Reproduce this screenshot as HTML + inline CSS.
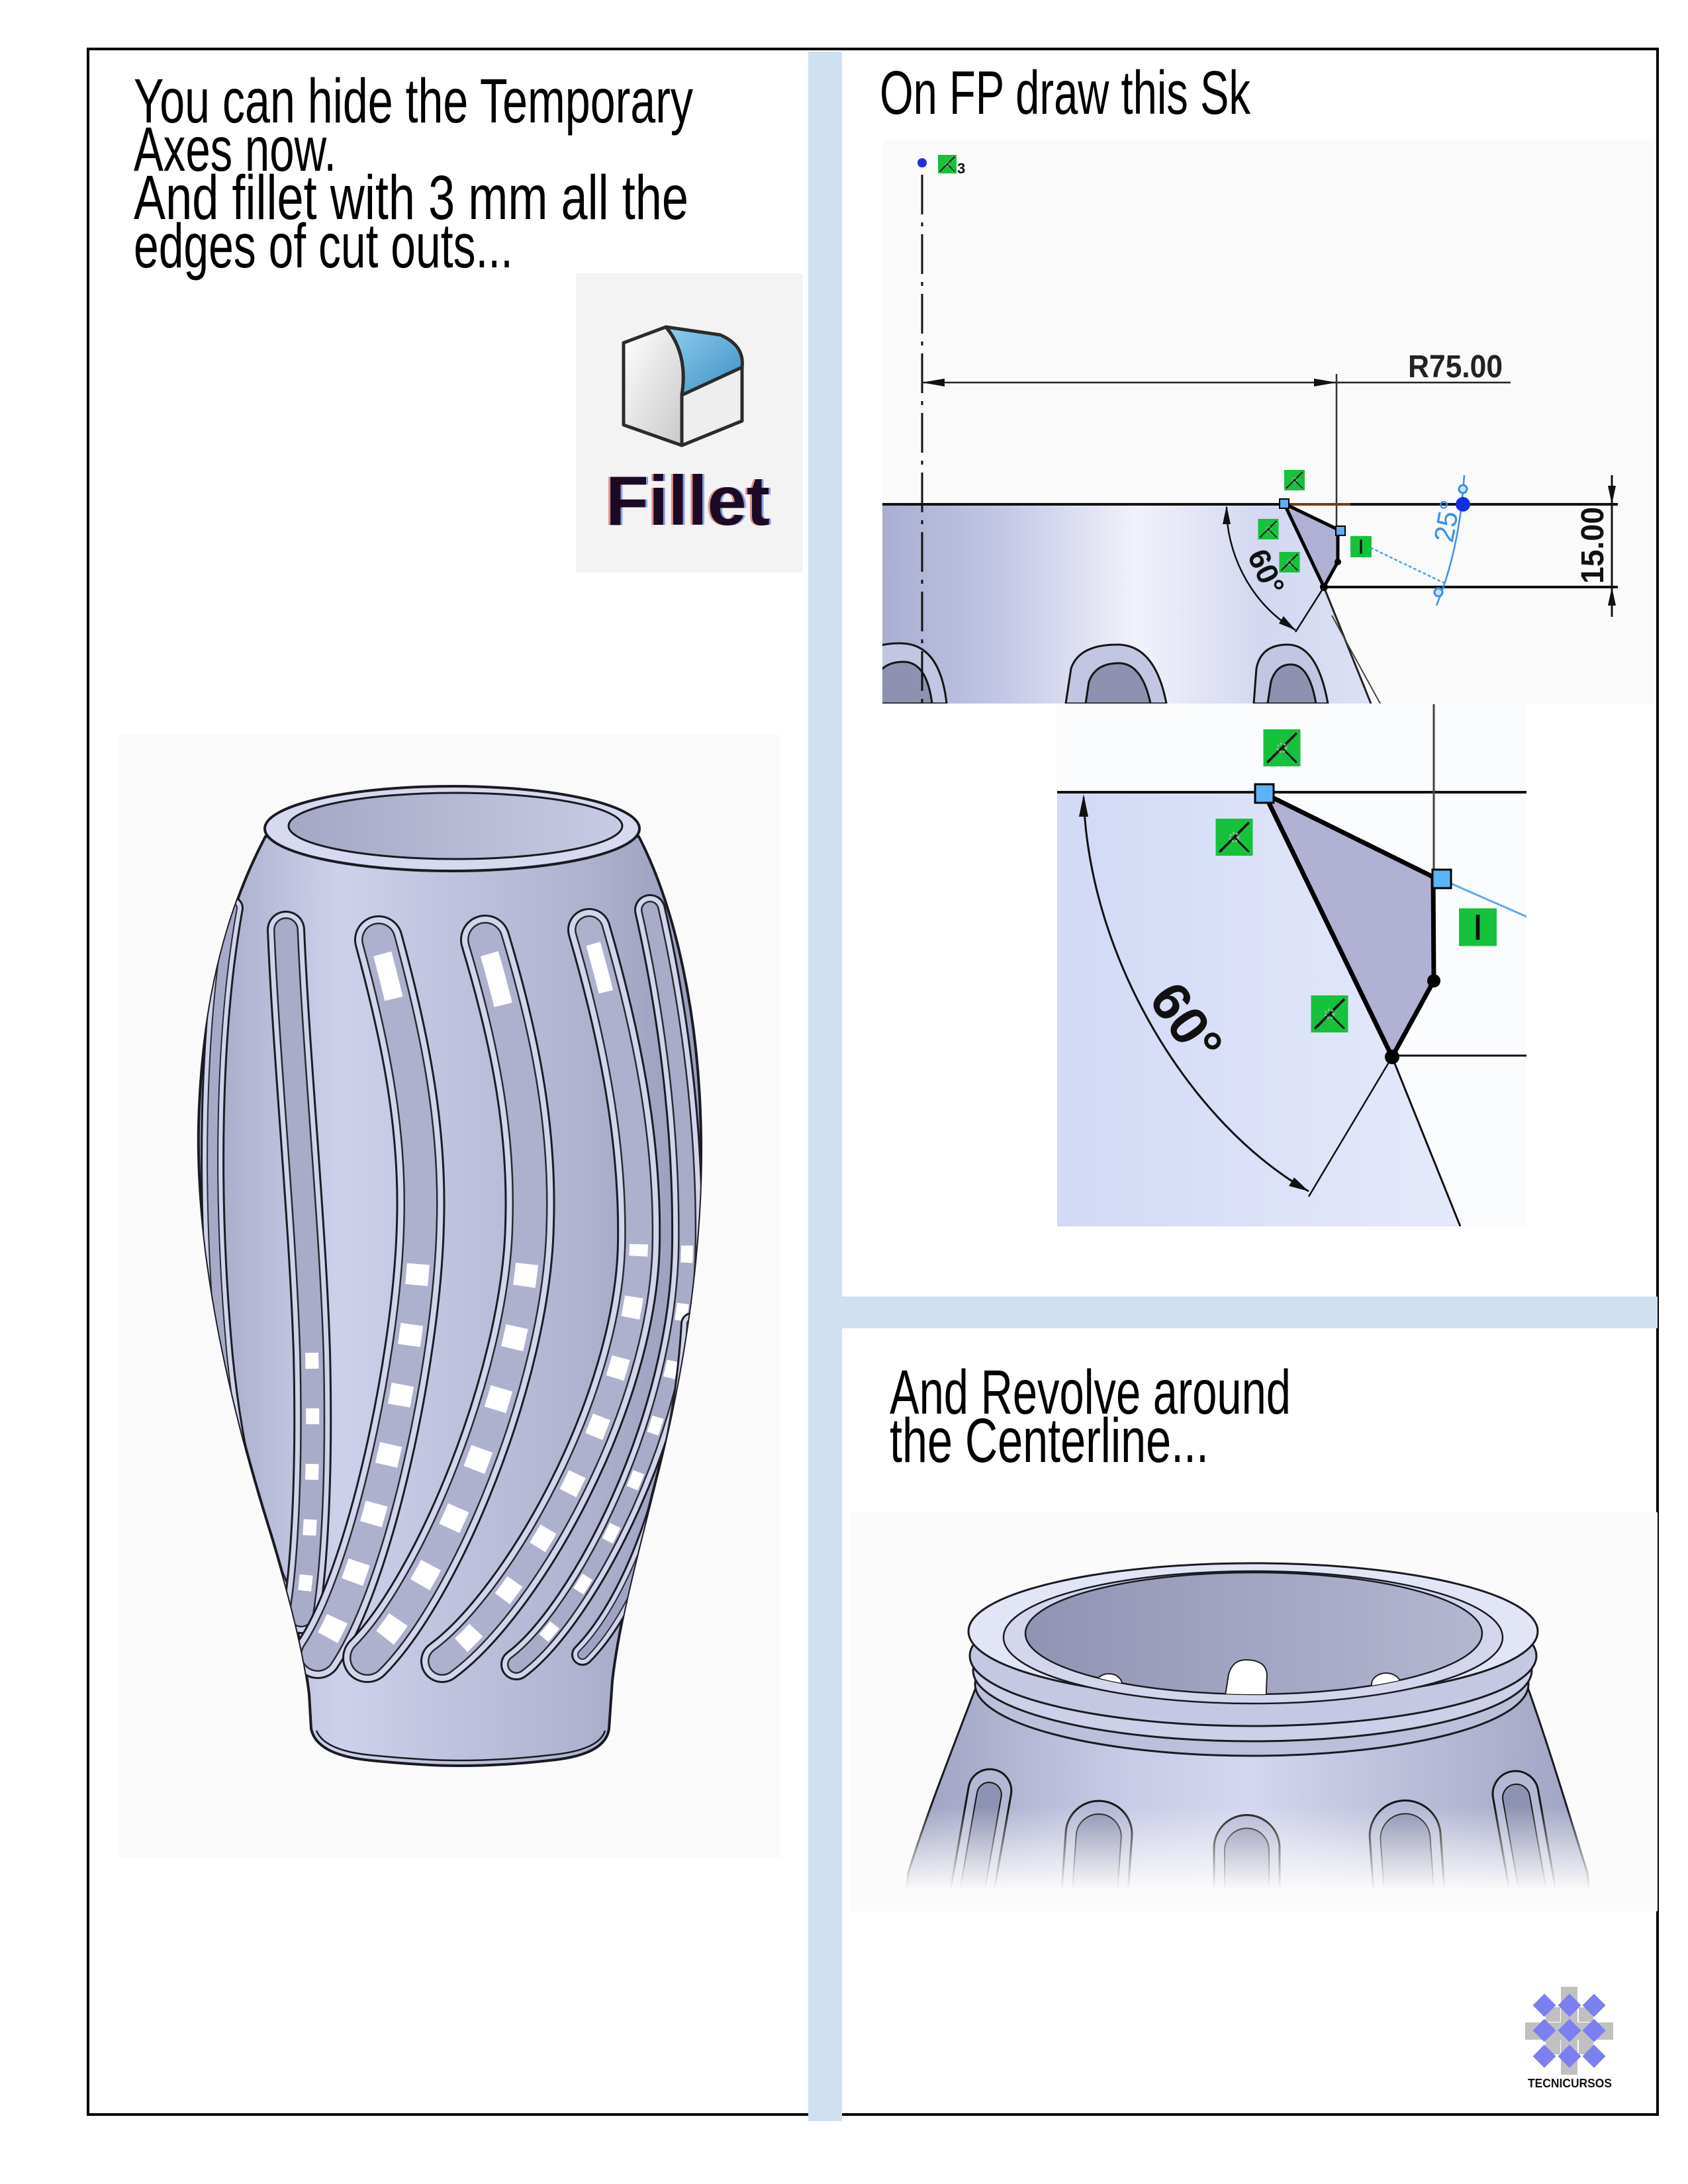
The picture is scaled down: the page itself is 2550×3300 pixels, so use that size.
<!DOCTYPE html>
<html><head><meta charset="utf-8"><style>
html,body{margin:0;padding:0;background:#fff;}
svg{display:block;}
</style></head><body>
<svg xmlns="http://www.w3.org/2000/svg" xmlns:xlink="http://www.w3.org/1999/xlink" width="2550" height="3300" viewBox="0 0 2550 3300" font-family="'Liberation Sans', sans-serif">
<defs>
  <linearGradient id="vg" gradientUnits="userSpaceOnUse" x1="300" y1="0" x2="1060" y2="0">
    <stop offset="0" stop-color="#a4a8c6"/><stop offset="0.28" stop-color="#cdd1eb"/>
    <stop offset="0.45" stop-color="#c2c6e1"/><stop offset="0.75" stop-color="#b0b4d0"/>
    <stop offset="1" stop-color="#989cbb"/>
  </linearGradient>
  <linearGradient id="og" gradientUnits="userSpaceOnUse" x1="430" y1="0" x2="940" y2="0">
    <stop offset="0" stop-color="#a3a7c4"/><stop offset="1" stop-color="#c8cbe3"/>
  </linearGradient>
  <linearGradient id="sg" gradientUnits="userSpaceOnUse" x1="1333" y1="0" x2="2071" y2="0">
    <stop offset="0" stop-color="#a9add0"/><stop offset="0.25" stop-color="#c4c8e6"/>
    <stop offset="0.52" stop-color="#f1f2fa"/><stop offset="0.78" stop-color="#d3d7f0"/>
    <stop offset="1" stop-color="#dde1f5"/>
  </linearGradient>
  <linearGradient id="dg" gradientUnits="userSpaceOnUse" x1="1597" y1="0" x2="2200" y2="0">
    <stop offset="0" stop-color="#d2d9f5"/><stop offset="1" stop-color="#e5e9fb"/>
  </linearGradient>
  <linearGradient id="bg" gradientUnits="userSpaceOnUse" x1="1379" y1="0" x2="2392" y2="0">
    <stop offset="0" stop-color="#9ea2c1"/><stop offset="0.3" stop-color="#c6cae5"/>
    <stop offset="0.5" stop-color="#d4d7ef"/><stop offset="0.75" stop-color="#b9bdd8"/>
    <stop offset="1" stop-color="#a0a4c3"/>
  </linearGradient>
  <linearGradient id="bog" gradientUnits="userSpaceOnUse" x1="1549" y1="0" x2="2239" y2="0">
    <stop offset="0" stop-color="#9094b3"/><stop offset="1" stop-color="#b4b7d1"/>
  </linearGradient>
  <linearGradient id="fg" gradientUnits="userSpaceOnUse" x1="0" y1="2730" x2="0" y2="2870">
    <stop offset="0" stop-color="#fbfbfb" stop-opacity="0"/><stop offset="0.9" stop-color="#fbfbfb" stop-opacity="1"/>
  </linearGradient>
  <linearGradient id="cubeL" x1="0" y1="0" x2="1" y2="1">
    <stop offset="0" stop-color="#ffffff"/><stop offset="1" stop-color="#c9c9c9"/>
  </linearGradient>
  <linearGradient id="cubeB" x1="0" y1="0" x2="1" y2="1">
    <stop offset="0" stop-color="#8fd0f0"/><stop offset="1" stop-color="#3d8ec2"/>
  </linearGradient>
  <clipPath id="vclip">
    <path d="M401,1264 C 350,1360 305,1500 300,1700 C 296,1900 350,2130 410,2320 C 440,2420 460,2500 467,2560 L 470,2612 Q 478,2652 560,2660 Q 640,2668 695,2668 Q 760,2668 830,2660 Q 915,2652 920,2612 L 925,2540 C 935,2450 965,2340 995,2220 C 1030,2080 1060,1900 1059,1727 C 1058,1540 1020,1370 965,1264 Z"/>
  </clipPath>
  <clipPath id="skclip"><rect x="1333" y="211" width="1167" height="852"/></clipPath>
  <clipPath id="dclip"><rect x="1597" y="1064" width="709" height="789"/></clipPath>
  <clipPath id="boclip"><ellipse cx="1894" cy="2468" rx="345" ry="92"/></clipPath>
  <clipPath id="rclip"><rect x="1285" y="2285" width="1219" height="603"/></clipPath>
  <symbol id="gi" viewBox="0 0 30 30">
    <rect width="30" height="30" fill="#16c23c"/>
    <path d="M3,27 L27,3" stroke="#111" stroke-width="2" fill="none"/>
    <path d="M15,15 L27,27" stroke="#111" stroke-width="1.6" fill="none"/>
    <circle cx="15" cy="15" r="3.5" fill="none" stroke="#b0b0b0" stroke-width="1.5" stroke-dasharray="1.5 1.5"/>
  </symbol>
  <symbol id="gI" viewBox="0 0 30 30">
    <rect width="30" height="30" fill="#16c23c"/>
    <path d="M15,5 L15,25" stroke="#111" stroke-width="3"/>
  </symbol>
  <path id="sA" d="M350,1372 C 318,1550 312,1800 335,2050 C 355,2250 400,2370 440,2440"/>
  <path id="sB" d="M432,1405 C 440,1600 465,1850 471,2044 C 476,2250 465,2380 455,2440"/>
  <path id="sC" d="M572,1420 C 610,1560 640,1700 635,1850 C 630,2050 560,2380 480,2500"/>
  <path id="sD" d="M733,1420 C 775,1560 805,1700 800,1850 C 795,2080 660,2400 555,2505"/>
  <path id="sE" d="M890,1405 C 935,1560 968,1720 965,1880 C 960,2120 790,2420 668,2510"/>
  <path id="sF" d="M982,1375 C 1015,1520 1040,1700 1038,1880 C 1035,2150 880,2440 780,2515"/>
  <path id="sG" d="M1045,2000 C 1030,2250 950,2430 880,2500"/>
  <path id="lB" d="M471,2044 C 476,2250 465,2380 455,2440"/>
  <path id="lC" d="M635,1850 C 630,2050 560,2380 480,2500"/>
  <path id="lD" d="M800,1850 C 795,2080 660,2400 555,2505"/>
  <path id="lE" d="M965,1880 C 960,2120 790,2420 668,2510"/>
  <path id="lF" d="M1038,1880 C 1035,2150 880,2440 780,2515"/>
</defs>

<!-- frame -->
<rect x="133" y="74" width="2371" height="3121" fill="none" stroke="#000" stroke-width="4"/>
<rect x="1221" y="78" width="51" height="3127" fill="#cfe0f1"/>
<rect x="1272" y="1959" width="1232" height="48" fill="#cfe0f1"/>

<!-- left text -->
<g fill="#000" font-size="95">
  <text x="202" y="185" textLength="845" lengthAdjust="spacingAndGlyphs">You can hide the Temporary</text>
  <text x="202" y="258" textLength="306" lengthAdjust="spacingAndGlyphs">Axes now.</text>
  <text x="202" y="331" textLength="838" lengthAdjust="spacingAndGlyphs">And fillet with 3 mm all the</text>
  <text x="202" y="404" textLength="573" lengthAdjust="spacingAndGlyphs">edges of cut outs...</text>
</g>

<!-- Fillet icon -->
<rect x="870" y="413" width="343" height="452" fill="#f3f3f3"/>
<g stroke="#2b2b2b" stroke-width="5" stroke-linejoin="round">
  <path d="M942,518 L1006,494 Q1040,535 1030,597 L1030,673 L942,642 Z" fill="url(#cubeL)"/>
  <path d="M1006,494 L1088,506 Q1125,522 1121,555 L1030,597 Q1040,535 1006,494 Z" fill="url(#cubeB)"/>
  <path d="M1030,597 L1121,555 L1121,636 L1030,673 Z" fill="#eeeeee"/>
</g>
<g font-size="106" font-weight="bold">
  <text x="912" y="793" fill="#d03020" opacity="0.5" textLength="248" lengthAdjust="spacingAndGlyphs">Fillet</text>
  <text x="918" y="793" fill="#2050d0" opacity="0.5" textLength="248" lengthAdjust="spacingAndGlyphs">Fillet</text>
  <text x="915" y="793" fill="#1c0a24" textLength="248" lengthAdjust="spacingAndGlyphs">Fillet</text>
</g>

<!-- vase -->
<rect x="179" y="1110" width="1000" height="1697" fill="#fafafa"/>
<path d="M401,1264 C 350,1360 305,1500 300,1700 C 296,1900 350,2130 410,2320 C 440,2420 460,2500 467,2560 L 470,2612 Q 478,2652 560,2660 Q 640,2668 695,2668 Q 760,2668 830,2660 Q 915,2652 920,2612 L 925,2540 C 935,2450 965,2340 995,2220 C 1030,2080 1060,1900 1059,1727 C 1058,1540 1020,1370 965,1264 Z" fill="url(#vg)" stroke="#1a1a22" stroke-width="4"/>
<path d="M478,2615 Q 490,2645 560,2652 Q 640,2660 695,2660 Q 760,2660 830,2652 Q 905,2645 914,2615" fill="none" stroke="#1a1a22" stroke-width="2.5"/>
<g clip-path="url(#vclip)" fill="none" stroke-linecap="round">
  <use href="#sA" stroke="#1c1c26" stroke-width="36"/>
  <use href="#sA" stroke="#d0d3eb" stroke-width="30"/>
  <use href="#sA" stroke="#2a2a34" stroke-width="18"/>
  <use href="#sA" stroke="#a6aac6" stroke-width="14"/>

  <use href="#sB" stroke="#1c1c26" stroke-width="58"/>
  <use href="#sB" stroke="#d0d3eb" stroke-width="52"/>
  <use href="#sB" stroke="#2a2a34" stroke-width="38"/>
  <use href="#sB" stroke="#a8acc8" stroke-width="33"/>
  <use href="#lB" stroke="#fff" stroke-width="20" stroke-dasharray="24 60" stroke-linecap="butt"/>

  <use href="#sC" stroke="#1c1c26" stroke-width="74"/>
  <use href="#sC" stroke="#d2d5ec" stroke-width="68"/>
  <use href="#sC" stroke="#2a2a34" stroke-width="52"/>
  <use href="#sC" stroke="#adb1cd" stroke-width="47"/>
  <use href="#lC" stroke="#fff" stroke-width="34" stroke-dasharray="32 60" stroke-dashoffset="-60" stroke-linecap="butt"/>
  <use href="#sC" stroke="#fff" stroke-width="28" stroke-dasharray="0 22 70 100000" stroke-linecap="butt"/>

  <use href="#sD" stroke="#1c1c26" stroke-width="76"/>
  <use href="#sD" stroke="#d2d5ec" stroke-width="70"/>
  <use href="#sD" stroke="#2a2a34" stroke-width="54"/>
  <use href="#sD" stroke="#adb1cd" stroke-width="49"/>
  <use href="#lD" stroke="#fff" stroke-width="34" stroke-dasharray="34 62" stroke-dashoffset="-60" stroke-linecap="butt"/>
  <use href="#sD" stroke="#fff" stroke-width="28" stroke-dasharray="0 22 80 100000" stroke-linecap="butt"/>

  <use href="#sE" stroke="#1c1c26" stroke-width="66"/>
  <use href="#sE" stroke="#d2d5ec" stroke-width="60"/>
  <use href="#sE" stroke="#2a2a34" stroke-width="44"/>
  <use href="#sE" stroke="#adb1cd" stroke-width="39"/>
  <use href="#lE" stroke="#fff" stroke-width="28" stroke-dasharray="32 62" stroke-dashoffset="-80" stroke-linecap="butt"/>
  <use href="#sE" stroke="#fff" stroke-width="22" stroke-dasharray="0 22 75 100000" stroke-linecap="butt"/>

  <use href="#sF" stroke="#1c1c26" stroke-width="48"/>
  <use href="#sF" stroke="#d2d5ec" stroke-width="42"/>
  <use href="#sF" stroke="#2a2a34" stroke-width="28"/>
  <use href="#sF" stroke="#a8acc8" stroke-width="23"/>
  <use href="#lF" stroke="#fff" stroke-width="18" stroke-dasharray="26 62" stroke-dashoffset="-90" stroke-linecap="butt"/>

  <use href="#sG" stroke="#1c1c26" stroke-width="34"/>
  <use href="#sG" stroke="#d0d3eb" stroke-width="28"/>
  <use href="#sG" stroke="#2a2a34" stroke-width="16"/>
  <use href="#sG" stroke="#a0a4c2" stroke-width="12"/>
</g>
<ellipse cx="683" cy="1252" rx="283" ry="64" fill="#d6d9ef" stroke="#1a1a22" stroke-width="4"/>
<ellipse cx="688" cy="1248" rx="252" ry="50" fill="url(#og)" stroke="#1a1a22" stroke-width="3"/>

<!-- right title -->
<text x="1329" y="172" font-size="93" fill="#000" textLength="560" lengthAdjust="spacingAndGlyphs">On FP draw this Sk</text>

<!-- top sketch -->
<rect x="1333" y="211" width="1167" height="853" fill="#fafafa"/>
<g clip-path="url(#skclip)">
  <path d="M1333,762 L1938,762 L2000,887 L2071,1063 L1333,1063 Z" fill="url(#sg)"/>
  <g stroke="#151515" stroke-width="3">
    <path d="M1300,1063 L1300,1010 Q1300,972 1360,972 Q1420,972 1430,1063 Z" fill="#c2c6e2"/>
    <path d="M1320,1063 L1322,1030 Q1330,1000 1365,1000 Q1400,1000 1408,1063 Z" fill="#8e92b0"/>
    <path d="M1610,1063 L1618,1010 Q1630,974 1688,974 Q1745,974 1762,1063 Z" fill="#c2c6e2"/>
    <path d="M1640,1063 L1645,1030 Q1655,1002 1690,1002 Q1725,1002 1738,1063 Z" fill="#8e92b0"/>
    <path d="M1894,1063 L1898,1010 Q1905,974 1945,974 Q1990,974 2006,1063 Z" fill="#c2c6e2"/>
    <path d="M1915,1063 L1920,1030 Q1928,1004 1950,1004 Q1978,1004 1988,1063 Z" fill="#8e92b0"/>
  </g>
  <path d="M2000,887 L2071,1063" stroke="#222" stroke-width="3" fill="none"/>
  <path d="M2012,930 L2085,1063" stroke="#444" stroke-width="2" fill="none"/>
</g>
<line x1="1393" y1="264" x2="1393" y2="1063" stroke="#111" stroke-width="3" stroke-dasharray="60 12 6 12"/>
<circle cx="1393" cy="246" r="7" fill="#1a2fe0"/>
<use href="#gi" x="1416" y="234" width="30" height="28"/>
<text x="1446" y="262" font-size="22" font-weight="bold" fill="#111">3</text>
<line x1="1393" y1="578" x2="2282" y2="578" stroke="#222" stroke-width="2.5"/>
<polygon points="1393,578 1427,572 1427,584" fill="#111"/>
<polygon points="2019,578 1985,572 1985,584" fill="#111"/>
<line x1="2019" y1="565" x2="2019" y2="800" stroke="#333" stroke-width="2.5"/>
<text x="2127" y="570" font-size="48" font-weight="bold" fill="#222" textLength="143" lengthAdjust="spacingAndGlyphs">R75.00</text>
<line x1="1333" y1="762" x2="2444" y2="762" stroke="#111" stroke-width="4"/>
<line x1="1945" y1="762" x2="2040" y2="762" stroke="#7a3a10" stroke-width="4"/>
<line x1="2000" y1="887" x2="2444" y2="887" stroke="#111" stroke-width="4"/>
<polygon points="1940,761 2021,800 2021,849 2000,887" fill="#b0b0d4" stroke="#000" stroke-width="5" stroke-linejoin="round"/>
<rect x="1933" y="754" width="14" height="14" fill="#5ab0f0" stroke="#000" stroke-width="2"/>
<rect x="2018" y="795" width="14" height="14" fill="#5ab0f0" stroke="#000" stroke-width="2"/>
<circle cx="2021" cy="849" r="5" fill="#000"/>
<circle cx="2000" cy="887" r="6" fill="#000"/>
<line x1="2435" y1="718" x2="2435" y2="932" stroke="#111" stroke-width="3"/>
<polygon points="2435,762 2429,734 2441,734" fill="#111"/>
<polygon points="2435,887 2429,915 2441,915" fill="#111"/>
<text transform="translate(2422,824) rotate(-90)" text-anchor="middle" font-size="48" font-weight="bold" fill="#111" textLength="116" lengthAdjust="spacingAndGlyphs">15.00</text>
<path d="M2212,718 Q2205,830 2170,915" stroke="#3a8ee8" stroke-width="2.5" fill="none"/>
<line x1="2063" y1="824" x2="2184" y2="882" stroke="#4aa0f0" stroke-width="2.5" stroke-dasharray="5 3"/>
<circle cx="2210" cy="739" r="6" fill="#cfe4fa" stroke="#3a8ee8" stroke-width="3"/>
<circle cx="2173" cy="895" r="6" fill="#cfe4fa" stroke="#3a8ee8" stroke-width="3"/>
<circle cx="2210" cy="762" r="11" fill="#1030e0"/>
<text transform="translate(2200,790) rotate(-80)" text-anchor="middle" font-size="42" fill="#3c8fe6">25°</text>
<use href="#gI" x="2040" y="810" width="32" height="32"/>
<use href="#gi" x="1940" y="710" width="31" height="31"/>
<use href="#gi" x="1900" y="784" width="32" height="31"/>
<use href="#gi" x="1932" y="834" width="32" height="31"/>
<path d="M1853,766 C 1852,830 1885,910 1957,952" stroke="#111" stroke-width="2.5" fill="none"/>
<polygon points="1853,764 1847,792 1859,792" fill="#111"/>
<polygon points="1957,952 1932,942 1939,931" fill="#111"/>
<line x1="1957" y1="955" x2="2000" y2="887" stroke="#111" stroke-width="2.5"/>
<text transform="translate(1913,864) rotate(65)" text-anchor="middle" y="16" font-size="46" font-weight="bold" fill="#111">60°</text>

<!-- detail sketch -->
<rect x="1597" y="1064" width="709" height="789" fill="#fbfcfe"/>
<g clip-path="url(#dclip)">
  <path d="M1597,1197 L1910,1197 L2103,1597 L2204,1853 L1597,1853 Z" fill="url(#dg)"/>
  <line x1="1597" y1="1197" x2="2306" y2="1197" stroke="#111" stroke-width="4"/>
  <line x1="2166" y1="1064" x2="2166" y2="1325" stroke="#444" stroke-width="3"/>
  <line x1="2103" y1="1595" x2="2306" y2="1595" stroke="#111" stroke-width="3"/>
  <line x1="2103" y1="1597" x2="2206" y2="1853" stroke="#111" stroke-width="3"/>
  <line x1="2103" y1="1597" x2="1977" y2="1808" stroke="#111" stroke-width="2.5"/>
  <line x1="2192" y1="1335" x2="2306" y2="1385" stroke="#5aaaf0" stroke-width="3"/>
  <polygon points="1910,1199 2165,1325 2166,1482 2103,1597" fill="#b1b1d4" stroke="#000" stroke-width="7" stroke-linejoin="round"/>
  <rect x="1896" y="1185" width="28" height="28" fill="#5ab4f5" stroke="#000" stroke-width="3"/>
  <rect x="2164" y="1314" width="28" height="28" fill="#5ab4f5" stroke="#000" stroke-width="3"/>
  <circle cx="2166" cy="1482" r="10" fill="#000"/>
  <circle cx="2103" cy="1597" r="11" fill="#000"/>
  <path d="M1637,1205 C 1645,1450 1800,1700 1977,1800" stroke="#111" stroke-width="3" fill="none"/>
  <polygon points="1637,1200 1630,1234 1644,1234" fill="#111"/>
  <polygon points="1977,1800 1947,1792 1955,1779" fill="#111"/>
  <text transform="translate(1792,1545) rotate(55)" text-anchor="middle" y="28" font-size="82" font-weight="bold" fill="#111">60°</text>
  <use href="#gi" x="1908" y="1102" width="57" height="56"/>
  <use href="#gi" x="1836" y="1237" width="57" height="56"/>
  <use href="#gi" x="1980" y="1504" width="57" height="56"/>
  <use href="#gI" x="2204" y="1372" width="57" height="58"/>
</g>

<!-- bottom text -->
<g fill="#000" font-size="95">
  <text x="1344" y="2136" textLength="606" lengthAdjust="spacingAndGlyphs">And Revolve around</text>
  <text x="1344" y="2209" textLength="482" lengthAdjust="spacingAndGlyphs">the Centerline...</text>
</g>

<!-- bottom render -->
<rect x="1285" y="2285" width="1219" height="603" fill="#fbfbfb"/>
<g clip-path="url(#rclip)">
  <path d="M1474,2550 C 1440,2640 1400,2740 1372,2830 L1365,2900 L2405,2900 L2398,2830 C 2370,2740 2340,2640 2308,2550 Z" fill="url(#bg)"/>
  <path d="M1474,2550 C 1440,2640 1400,2740 1372,2830 L1365,2900 M2308,2550 C 2340,2640 2370,2740 2398,2830 L2405,2900" fill="none" stroke="#1a1a22" stroke-width="3"/>
  <g stroke="#151515">
    <g transform="rotate(10 1487 2750)">
      <path d="M1455,2880 L1455,2705 A32.5,32.5 0 0 1 1520,2705 L1520,2880 Z" fill="#b4b8d4" stroke-width="3"/>
      <path d="M1469,2880 L1469,2711 A18.5,18.5 0 0 1 1506,2711 L1506,2880 Z" fill="#8f93b3" stroke-width="2"/>
    </g>
    <g transform="rotate(4 1658 2800)">
      <path d="M1608,2900 L1608,2771 A50,50 0 0 1 1708,2771 L1708,2900 Z" fill="#b4b8d4" stroke-width="3"/>
      <path d="M1624,2900 L1624,2775 A34,34 0 0 1 1692,2775 L1692,2900 Z" fill="#8f93b3" stroke-width="2"/>
    </g>
    <path d="M1834,2900 L1834,2792 A49.5,49.5 0 0 1 1933,2792 L1933,2900 Z" fill="#b4b8d4" stroke-width="3"/>
    <path d="M1850,2900 L1850,2796 A33.5,33.5 0 0 1 1917,2796 L1917,2900 Z" fill="#8f93b3" stroke-width="2"/>
    <g transform="rotate(-4 2124 2800)">
      <path d="M2071,2900 L2071,2774 A53.5,53.5 0 0 1 2178,2774 L2178,2900 Z" fill="#b4b8d4" stroke-width="3"/>
      <path d="M2087,2900 L2087,2778 A37.5,37.5 0 0 1 2162,2778 L2162,2900 Z" fill="#8f93b3" stroke-width="2"/>
    </g>
    <g transform="rotate(-10 2296 2750)">
      <path d="M2262,2880 L2262,2710 A34.5,34.5 0 0 1 2331,2710 L2331,2880 Z" fill="#b4b8d4" stroke-width="3"/>
      <path d="M2276,2880 L2276,2716 A20.5,20.5 0 0 1 2317,2716 L2317,2880 Z" fill="#8f93b3" stroke-width="2"/>
    </g>
  </g>
  <rect x="1285" y="2730" width="1219" height="160" fill="url(#fg)"/>
  <ellipse cx="1891" cy="2545" rx="418" ry="108" fill="#bcc0da" stroke="#1a1a22" stroke-width="3"/>
  <ellipse cx="1892" cy="2524" rx="422" ry="107" fill="#cdd0e8" stroke="#1a1a22" stroke-width="3"/>
  <ellipse cx="1893" cy="2502" rx="428" ry="106" fill="#c4c8e2" stroke="#1a1a22" stroke-width="3"/>
  <ellipse cx="1893" cy="2465" rx="430" ry="103" fill="#e2e5f6" stroke="#1a1a22" stroke-width="3"/>
  <ellipse cx="1893" cy="2474" rx="377" ry="100" fill="#d3d6ed" stroke="#1a1a22" stroke-width="2.5"/>
  <ellipse cx="1894" cy="2468" rx="345" ry="92" fill="url(#bog)" stroke="#1a1a22" stroke-width="2.5"/>
  <g clip-path="url(#boclip)" fill="#fff" stroke="#222" stroke-width="2">
    <ellipse cx="1675" cy="2545" rx="20" ry="16"/>
    <path d="M1848,2580 L1856,2530 Q1862,2508 1882,2508 Q1912,2508 1914,2530 L1912,2580 Z"/>
    <ellipse cx="2094" cy="2545" rx="22" ry="17"/>
  </g>
</g>

<!-- logo -->
<g fill="#c0c0c0">
  <rect x="2358" y="3002" width="25" height="133"/>
  <rect x="2304" y="3056" width="133" height="26"/>
  <rect x="2335" y="3033" width="22" height="22"/>
  <rect x="2385" y="3033" width="22" height="22"/>
  <rect x="2335" y="3082" width="22" height="22"/>
  <rect x="2385" y="3082" width="22" height="22"/>
</g>
<g fill="#7b7ff0">
  <path d="M2333,3012.5 L2350.5,3030 L2333,3047.5 L2315.5,3030 Z"/>
  <path d="M2371,3012.5 L2388.5,3030 L2371,3047.5 L2353.5,3030 Z"/>
  <path d="M2408,3012.5 L2425.5,3030 L2408,3047.5 L2390.5,3030 Z"/>
  <path d="M2333,3050.5 L2350.5,3068 L2333,3085.5 L2315.5,3068 Z"/>
  <path d="M2371,3050.5 L2388.5,3068 L2371,3085.5 L2353.5,3068 Z"/>
  <path d="M2408,3050.5 L2425.5,3068 L2408,3085.5 L2390.5,3068 Z"/>
  <path d="M2333,3089.5 L2350.5,3107 L2333,3124.5 L2315.5,3107 Z"/>
  <path d="M2371,3089.5 L2388.5,3107 L2371,3124.5 L2353.5,3107 Z"/>
  <path d="M2408,3089.5 L2425.5,3107 L2408,3124.5 L2390.5,3107 Z"/>
</g>
<text x="2308" y="3154" font-size="18" font-weight="bold" fill="#111" textLength="127" lengthAdjust="spacingAndGlyphs">TECNICURSOS</text>
</svg>
</body></html>
